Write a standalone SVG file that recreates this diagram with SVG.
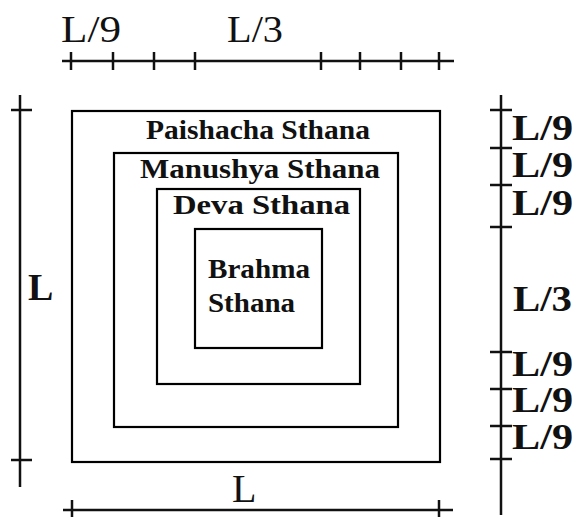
<svg xmlns="http://www.w3.org/2000/svg" width="576" height="517" viewBox="0 0 576 517">
<style>
.box{fill:none;stroke:#000;stroke-width:2.2}
.scale{stroke:#111;stroke-width:2.5;fill:none}
.t{font-family:"Liberation Serif","Times New Roman",serif;fill:#111}
.b{font-weight:bold}
</style>
<rect width="576" height="517" fill="#fff"/>
<g id="connectors">
  <g id="top-scale" class="scale">
    <line x1="62" y1="61" x2="454" y2="61"/>
    <line x1="71" y1="52" x2="71" y2="70"/>
    <line x1="113" y1="52" x2="113" y2="70"/>
    <line x1="154" y1="52" x2="154" y2="70"/>
    <line x1="195" y1="52" x2="195" y2="70"/>
    <line x1="321" y1="52" x2="321" y2="70"/>
    <line x1="360" y1="52" x2="360" y2="70"/>
    <line x1="401" y1="52" x2="401" y2="70"/>
    <line x1="439" y1="52" x2="439" y2="70"/>
  </g>
  <g id="left-scale" class="scale">
    <line x1="20" y1="95" x2="20" y2="487"/>
    <line x1="11" y1="110" x2="32" y2="110"/>
    <line x1="11" y1="460" x2="32" y2="460"/>
  </g>
  <g id="bottom-scale" class="scale">
    <line x1="63" y1="510" x2="453" y2="510"/>
    <line x1="72" y1="500" x2="72" y2="520"/>
    <line x1="439" y1="500" x2="439" y2="520"/>
  </g>
  <g id="right-scale" class="scale">
    <line x1="501" y1="95" x2="501" y2="515"/>
    <line x1="490" y1="110" x2="512" y2="110"/>
    <line x1="490" y1="148" x2="512" y2="148"/>
    <line x1="490" y1="185" x2="512" y2="185"/>
    <line x1="490" y1="227" x2="512" y2="227"/>
    <line x1="490" y1="352" x2="512" y2="352"/>
    <line x1="490" y1="389" x2="512" y2="389"/>
    <line x1="490" y1="426" x2="512" y2="426"/>
    <line x1="490" y1="459" x2="512" y2="459"/>
  </g>
</g>
<g id="paishacha">
  <rect class="box" x="72" y="111" width="368" height="351"/>
  <text class="t b" x="146" y="139" font-size="28" textLength="224" lengthAdjust="spacingAndGlyphs">Paishacha Sthana</text>
</g>
<g id="manushya">
  <rect class="box" x="114" y="153" width="284" height="274"/>
  <text class="t b" x="140" y="178" font-size="28" textLength="240" lengthAdjust="spacingAndGlyphs">Manushya Sthana</text>
</g>
<g id="deva">
  <rect class="box" x="157" y="189" width="203" height="195"/>
  <text class="t b" x="173" y="214" font-size="28" textLength="177" lengthAdjust="spacingAndGlyphs">Deva Sthana</text>
</g>
<g id="brahma">
  <rect class="box" x="195" y="229" width="127" height="119"/>
  <text class="t b" x="208" y="278" font-size="28" textLength="102" lengthAdjust="spacingAndGlyphs">Brahma</text>
  <text class="t b" x="208" y="312" font-size="28" textLength="87" lengthAdjust="spacingAndGlyphs">Sthana</text>
</g>
<g id="labels">
  <text class="t" x="61" y="42" font-size="37" textLength="60" lengthAdjust="spacingAndGlyphs">L/9</text>
  <text class="t" x="227" y="42" font-size="37" textLength="56" lengthAdjust="spacingAndGlyphs">L/3</text>
  <text class="t b" x="28" y="300" font-size="38">L</text>
  <text class="t" x="232" y="502" font-size="40">L</text>
  <text class="t b" x="512" y="140" font-size="35" textLength="61" lengthAdjust="spacingAndGlyphs">L/9</text>
  <text class="t b" x="512" y="177" font-size="35" textLength="61" lengthAdjust="spacingAndGlyphs">L/9</text>
  <text class="t b" x="512" y="215" font-size="35" textLength="61" lengthAdjust="spacingAndGlyphs">L/9</text>
  <text class="t b" x="513" y="311" font-size="35" textLength="59" lengthAdjust="spacingAndGlyphs">L/3</text>
  <text class="t b" x="512" y="376" font-size="35" textLength="61" lengthAdjust="spacingAndGlyphs">L/9</text>
  <text class="t b" x="512" y="412" font-size="35" textLength="61" lengthAdjust="spacingAndGlyphs">L/9</text>
  <text class="t b" x="512" y="449" font-size="35" textLength="61" lengthAdjust="spacingAndGlyphs">L/9</text>
</g>
</svg>
